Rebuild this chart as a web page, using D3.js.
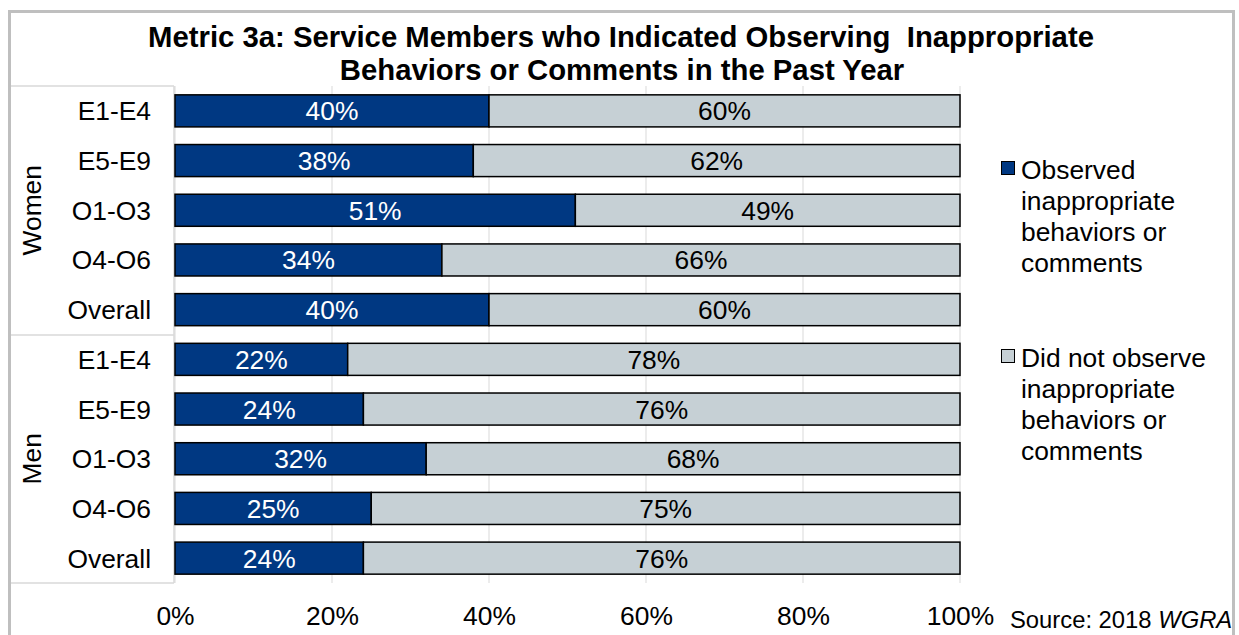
<!DOCTYPE html>
<html><head><meta charset="utf-8">
<script src="https://cdn.jsdelivr.net/npm/d3@7"></script>
<style>body{margin:0;background:#fff;} text{font-family:"Liberation Sans",Arial,sans-serif;}</style>
</head><body>
<svg id="c" width="1239" height="635"></svg>
<script>
const groups = ["Women","Men"];
const categories = ["E1-E4","E5-E9","O1-O3","O4-O6","Overall"];
const observed    = [40,38,51,34,40, 22,24,32,25,24];
const notObserved = [60,62,49,66,60, 78,76,68,75,76];
const ticks = [0,20,40,60,80,100];
const seriesNames = ["Observed inappropriate behaviors or comments","Did not observe inappropriate behaviors or comments"];
const colors = ["#003882","#c6d0d5"];

const rows = [];
groups.forEach((g,gi)=>categories.forEach((c,ci)=>{const i=gi*categories.length+ci; rows.push({id:g+"|"+c,g,c,v:[observed[i],notObserved[i]]});}));

const svg = d3.select("#c");
svg.append("rect").attr("x",9.5).attr("y",11.5).attr("width",1224).attr("height",640).attr("fill","none").attr("stroke","#bfbfbf").attr("stroke-width",3);

const x = d3.scaleLinear().domain([0,100]).range([175,960]);
const y = d3.scaleBand().domain(rows.map(r=>r.id)).range([86,583]).paddingInner(0.355).paddingOuter(0.178);

// gridlines
svg.append("g").selectAll("line").data(ticks).join("line")
  .attr("x1",d=>x(d)).attr("x2",d=>x(d)).attr("y1",86).attr("y2",583)
  .attr("stroke","#d9d9d9").attr("stroke-width",1);

// title
const t = svg.append("text").attr("text-anchor","middle").attr("font-weight","bold").attr("font-size",29.3).attr("fill","#000");
t.append("tspan").attr("x",621).attr("y",47).text("Metric 3a: Service Members who Indicated Observing\u00a0 Inappropriate");
t.append("tspan").attr("x",622).attr("y",80).text("Behaviors or Comments in the Past Year");

// label box lines
const lb = svg.append("g").attr("stroke","#d9d9d9").attr("stroke-width",1.5);
[86,335,583].forEach(yy=>lb.append("line").attr("x1",11).attr("x2",174).attr("y1",yy).attr("y2",yy));
lb.append("line").attr("x1",174).attr("x2",174).attr("y1",86).attr("y2",583);

// bars
const stack = rows.map(r=>{let acc=0; return r.v.map((v,k)=>{const s={id:r.id,k,x0:acc,x1:acc+v,v}; acc+=v; return s;});}).flat();
svg.append("g").selectAll("rect").data(stack).join("rect")
  .attr("x",d=>x(d.x0)).attr("width",d=>x(d.x1)-x(d.x0))
  .attr("y",d=>y(d.id)).attr("height",y.bandwidth())
  .attr("fill",d=>colors[d.k]).attr("stroke","#000").attr("stroke-width",1.5);
svg.append("g").selectAll("text").data(stack).join("text")
  .attr("x",d=>(x(d.x0)+x(d.x1))/2).attr("y",d=>y(d.id)+y.bandwidth()/2+9.5)
  .attr("text-anchor","middle").attr("font-size",26.4)
  .attr("fill",d=>d.k===0?"#fff":"#000").text(d=>d.v+"%");

// category labels
svg.append("g").selectAll("text").data(rows).join("text")
  .attr("x",151).attr("y",d=>y(d.id)+y.bandwidth()/2+9.5).attr("text-anchor","end")
  .attr("font-size",26.4).attr("fill","#000").text(d=>d.c);

// group labels
groups.forEach(g=>{
  const ids = rows.filter(r=>r.g===g).map(r=>r.id);
  const cy = (y(ids[0]) + y(ids[ids.length-1])+y.bandwidth())/2;
  svg.append("text").attr("transform",`translate(41,${cy}) rotate(-90)`).attr("text-anchor","middle")
    .attr("font-size",26.4).attr("fill","#000").text(g);
});

// x axis labels
const ax = svg.append("g").attr("transform","translate(0,583)").call(d3.axisBottom(x).tickValues(ticks).tickFormat(d=>d+"%").tickSize(0).tickPadding(0));
ax.select(".domain").remove();
ax.selectAll("text").attr("font-size",26.4).attr("fill","#000").attr("dy",0).attr("y",42).style("font-family","Liberation Sans, Arial, sans-serif");

// legend
function legendWrap(name){
  return name==seriesNames[0]?["Observed","inappropriate","behaviors or","comments"]:["Did not observe","inappropriate","behaviors or","comments"];
}
const legY=[179,367];
seriesNames.forEach((n,i)=>{
  const g=svg.append("g");
  g.append("rect").attr("x",1001.5).attr("y",legY[i]-17.5).attr("width",13).attr("height",13).attr("fill",colors[i]).attr("stroke","#000").attr("stroke-width",1);
  const tx=g.append("text").attr("font-size",26.4).attr("fill","#000");
  legendWrap(n).forEach((l,j)=>tx.append("tspan").attr("x",1021).attr("y",legY[i]+j*31).text(l));
});

// source
const src = svg.append("text").attr("x",1010).attr("y",628).attr("font-size",23.8).attr("fill","#000");
src.append("tspan").text("Source: 2018 ");
src.append("tspan").attr("font-style","italic").text("WGRA");
</script>
</body></html>
